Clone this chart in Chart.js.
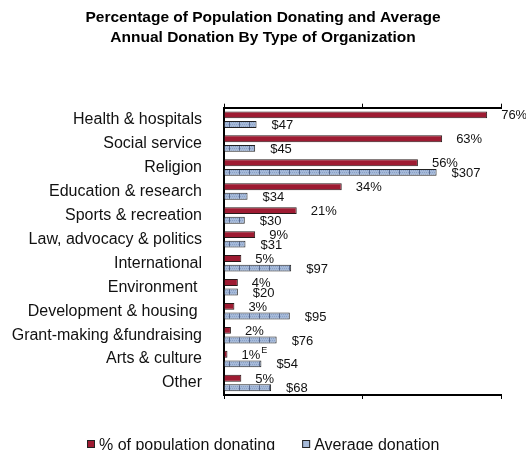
<!DOCTYPE html>
<html>
<head>
<meta charset="utf-8">
<script src="https://cdn.jsdelivr.net/npm/chart.js@4.4.1/dist/chart.umd.min.js"></script>
<style>
  html, body { margin: 0; padding: 0; background: #fff; }
  #wrap { width: 526px; height: 450px; }
</style>
</head>
<body>
<div id="wrap"><canvas id="donationChart"></canvas></div>
<script>
const categories = [
  'Health & hospitals', 'Social service', 'Religion', 'Education & research',
  'Sports & recreation', 'Law, advocacy & politics', 'International', 'Environment ',
  'Development & housing ', 'Grant-making &fundraising', 'Arts & culture', 'Other'
];
const pctDonating = [76, 63, 56, 34, 21, 9, 5, 4, 3, 2, 1, 5];
const pctNotes = ['', '', '', '', '', '', '', '', '', '', 'E', ''];
const avgDonation = [47, 45, 307, 34, 30, 31, 97, 20, 95, 76, 54, 68];
const pctTicks = [0, 40, 80];
const dollarTicks = [0, 200, 400];

const FONT = '"Liberation Sans", Arial, sans-serif';
const RED = '#9e1b32';
const BLUE = '#a6bad9';

// little hatched tile for the average donation bars
function hatch() {
  const c = document.createElement('canvas');
  c.width = 10; c.height = 4;
  const g = c.getContext('2d');
  g.fillStyle = BLUE;
  g.fillRect(0, 0, 10, 4);
  g.fillStyle = '#8aa1c7';
  for (let x = 0; x < 10; x += 2) {
    for (let y = 0; y < 4; y += 2) {
      g.fillRect(x + (y % 4 ? 1 : 0), y, 1, 1);
    }
  }
  g.fillStyle = '#56688e';
  g.fillRect(9, 0, 1, 4);
  return g.createPattern(c, 'repeat');
}

const barLabels = {
  id: 'barLabels',
  afterDatasetsDraw(chart) {
    const ctx = chart.ctx;
    ctx.save();
    ctx.font = '13px ' + FONT;
    ctx.fillStyle = '#111';
    ctx.textAlign = 'left';
    ctx.textBaseline = 'middle';
    chart.data.datasets.forEach((ds, i) => {
      chart.getDatasetMeta(i).data.forEach((bar, j) => {
        const v = ds.data[j];
        const txt = i === 0 ? v + '%' : '$' + v;
        const x = bar.x + (i === 0 ? 14 : 15);
        const y = bar.y + 1;
        ctx.fillText(txt, x, y);
        if (i === 0 && pctNotes[j]) {
          const w = ctx.measureText(txt).width;
          ctx.font = '9px ' + FONT;
          ctx.fillText(pctNotes[j], x + w + 1, y - 5);
          ctx.font = '13px ' + FONT;
        }
      });
    });
    ctx.restore();
  }
};

const bottomLegend = {
  id: 'bottomLegend',
  afterDraw(chart) {
    const ctx = chart.ctx;
    ctx.save();
    ctx.font = '16px ' + FONT;
    ctx.textBaseline = 'middle';
    const items = chart.data.datasets.map(ds => ({ text: ds.label, fill: ds.legendColor }));
    const box = 8, boxGap = 4, itemGap = 27;
    let total = 0;
    items.forEach((it, k) => {
      it.w = ctx.measureText(it.text).width;
      total += box + boxGap + it.w + (k ? itemGap : 0);
    });
    let x = Math.round(chart.width / 2 - total / 2);
    const y = 445;
    items.forEach(it => {
      ctx.fillStyle = it.fill;
      ctx.fillRect(x, y - 5, box, box);
      ctx.strokeStyle = '#222';
      ctx.lineWidth = 1;
      ctx.strokeRect(x + 0.5, y - 4.5, box - 1, box - 1);
      ctx.fillStyle = '#111';
      ctx.fillText(it.text, x + box + boxGap, y + 1);
      x += box + boxGap + it.w + itemGap;
    });
    ctx.restore();
  }
};

const axisLine = { color: '#000', width: 2 };
const tickMarks = { drawOnChartArea: false, drawTicks: true, tickLength: 4, color: '#000', lineWidth: 1 };

new Chart(document.getElementById('donationChart'), {
  type: 'bar',
  data: {
    labels: categories,
    datasets: [{
      label: '% of population donating',
      data: pctDonating,
      xAxisID: 'xPct',
      backgroundColor: RED,
      legendColor: RED,
      borderColor: '#2a1a1a',
      borderWidth: 1,
      categoryPercentage: 0.8,
      barPercentage: 0.72
    }, {
      label: 'Average donation',
      data: avgDonation,
      xAxisID: 'xDollar',
      backgroundColor: hatch(),
      legendColor: BLUE,
      borderColor: '#222',
      borderWidth: 1,
      categoryPercentage: 0.8,
      barPercentage: 0.72
    }]
  },
  options: {
    indexAxis: 'y',
    responsive: true,
    maintainAspectRatio: false,
    animation: false,
    devicePixelRatio: 1,
    layout: { padding: { left: 0, right: 0, top: 0, bottom: 51 } },
    scales: {
      y: {
        border: axisLine,
        grid: { display: false },
        ticks: { color: '#111', font: { family: FONT, size: 16 }, padding: 14 },
        afterFit: s => { s.width = 224; }
      },
      // empty right-hand strip so the plot stops short of the edge
      yGap: {
        type: 'category',
        position: 'right',
        border: { display: false },
        grid: { display: false },
        ticks: { display: false },
        afterFit: s => { s.width = 25; }
      },
      xPct: {
        position: 'top',
        min: 0, max: 80,
        afterBuildTicks: s => { s.ticks = pctTicks.map(v => ({ value: v })); },
        ticks: { display: false },
        border: axisLine,
        grid: tickMarks,
        afterFit: s => { s.height = 4; }
      },
      xDollar: {
        position: 'bottom',
        min: 0, max: 400,
        afterBuildTicks: s => { s.ticks = dollarTicks.map(v => ({ value: v })); },
        ticks: { display: false },
        border: axisLine,
        grid: tickMarks,
        afterFit: s => { s.height = 4; }
      }
    },
    plugins: {
      legend: { display: false },
      tooltip: { enabled: false },
      title: {
        display: true,
        text: ['Percentage of Population Donating and Average', 'Annual Donation By Type of Organization'],
        color: '#000',
        font: { family: FONT, size: 15.5, weight: 'bold', lineHeight: 1.28 },
        padding: { top: 7.5, bottom: 56.5 }
      }
    }
  },
  plugins: [barLabels, bottomLegend]
});
</script>
</body>
</html>
